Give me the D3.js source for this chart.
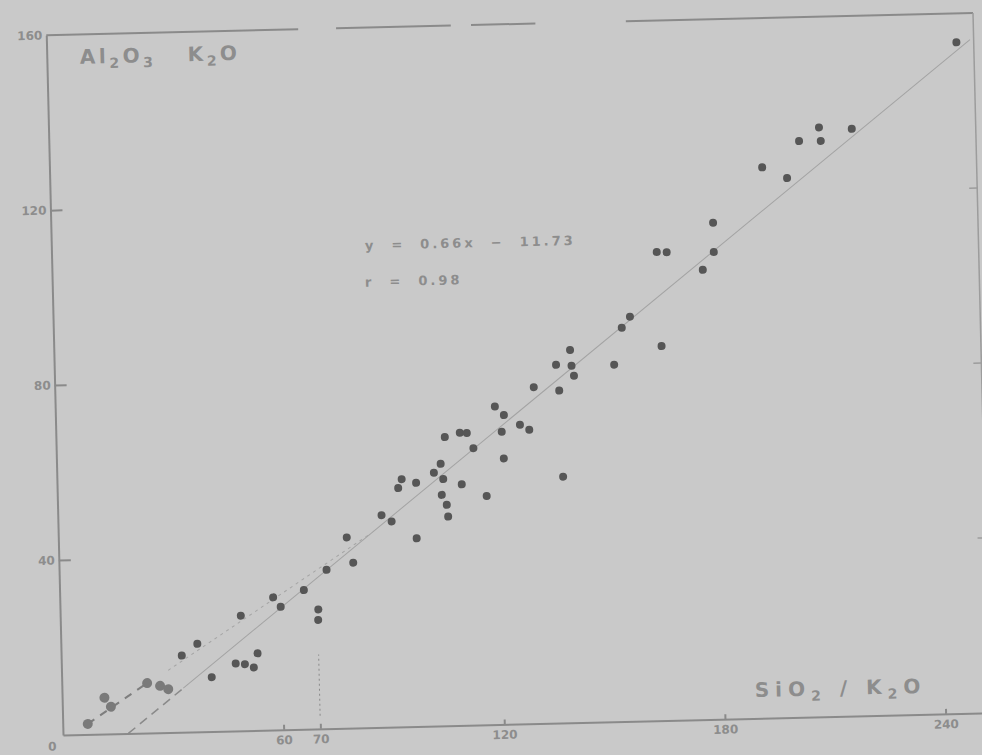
<!DOCTYPE html>
<html>
<head>
<meta charset="utf-8">
<script src="https://cdn.jsdelivr.net/npm/d3@7"></script>
<style>
  body { margin: 0; background: #c9c9c9; }
  svg { display: block; }
  text { font-family: "DejaVu Sans", sans-serif; font-weight: bold; fill: #8d8d8d; }
</style>
</head>
<body>
<svg width="982" height="755"></svg>
<script>
// x = SiO2/K2O, y = Al2O3/K2O
const ptsX = [32.8, 37.1, 40.8, 49.1, 47.4, 49.9, 52.3, 53.4, 58.0, 60.0, 66.4, 72.7, 70.2, 70.1,
  80.0, 78.4, 88.0, 90.7, 97.4, 93.7, 92.7, 97.6, 104.5, 105.8, 106.1, 104.4, 102.5, 105.0,
  110.0, 116.7, 105.7, 109.8, 111.7, 113.4, 121.6, 121.2, 119.5, 121.9, 126.2, 128.7, 130.2,
  137.1, 137.6, 140.3, 136.4, 140.6, 141.2, 152.2, 156.8, 154.5, 165.2, 164.5, 167.2, 180.0,
  180.0, 176.9, 193.7, 200.4, 203.9, 209.8, 209.4, 218.3, 247.3];
const ptsY = [17.5, 20.1, 12.4, 26.3, 15.4, 15.2, 14.4, 17.6, 30.3, 28.1, 31.8, 36.3, 27.3, 24.9,
  37.8, 43.6, 48.5, 47.0, 43.0, 56.6, 54.6, 55.7, 52.8, 50.5, 47.8, 59.9, 57.9, 56.4,
  55.1, 52.3, 66.0, 66.9, 66.8, 63.3, 60.8, 66.9, 72.7, 70.7, 68.4, 67.2, 76.9,
  76.0, 56.3, 85.2, 81.9, 81.6, 79.3, 81.6, 92.5, 90.0, 85.6, 107.1, 107.0, 113.5,
  106.8, 102.8, 125.9, 123.3, 131.7, 131.6, 134.7, 134.2, 153.4];

// low-ratio samples (larger, lighter dots, joined by the dashed line)
const lowX = [6.8, 11.5, 13.2, 23.2, 26.7, 28.9];
const lowY = [2.4, 8.3, 6.2, 11.4, 10.7, 9.9];

const slope = 0.66, intercept = -11.73;
const xTicks = [60, 70, 120, 180, 240];
const yTicks = [40, 80, 120, 160];

const svg = d3.select('svg');

// the scan is slightly tilted, so the whole plot is turned a little
const g = svg.append('g')
  .attr('transform', 'translate(63,735) rotate(-1.37)');

const x = d3.scaleLinear().domain([0, 252]).range([0, 927]);
const y = d3.scaleLinear().domain([0, 160]).range([0, -700]);

//axes
const xAxis = g.append('g')
  .call(d3.axisBottom(x).tickValues(xTicks).tickSize(-5).tickSizeOuter(0).tickPadding(6));
const yAxis = g.append('g')
  .call(d3.axisLeft(y).tickValues(yTicks).tickSize(-12).tickSizeOuter(0).tickPadding(4));

[xAxis, yAxis].forEach(a => {
  a.select('.domain').attr('stroke', '#8a8a8a').attr('stroke-width', 2);
  a.selectAll('.tick line').attr('stroke', '#8a8a8a').attr('stroke-width', 2);
  a.selectAll('.tick text').style('font-size', '12px').attr('fill', '#8a8a8a');
});
yAxis.selectAll('.tick').filter(d => d === 160).select('line').remove();

g.append('text')
  .attr('x', x(-3)).attr('y', y(-3.5))
  .attr('text-anchor', 'middle')
  .style('font-size', '12px')
  .text('0');

//frame: top (with the gaps of the scan) and right side
const topSegments = [[0, 68.5], [78.8, 110], [115.5, 133], [157.6, 252]];
g.selectAll('.top')
  .data(topSegments)
  .join('line')
  .attr('x1', d => x(d[0])).attr('x2', d => x(d[1]))
  .attr('y1', y(160)).attr('y2', y(160))
  .attr('stroke', '#8a8a8a').attr('stroke-width', 2);

g.append('line')
  .attr('x1', x(252)).attr('x2', x(252))
  .attr('y1', y(160)).attr('y2', y(0))
  .attr('stroke', '#9c9c9c').attr('stroke-width', 1.5);

g.selectAll('.rtick')
  .data(yTicks.slice(0, 3))
  .join('line')
  .attr('x1', x(252)).attr('x2', x(252) - 8)
  .attr('y1', d => y(d)).attr('y2', d => y(d))
  .attr('stroke', '#9c9c9c').attr('stroke-width', 1.5);

//regression line: dashed near the origin, thin further up
const x0 = -intercept / slope;
g.append('line')
  .attr('x1', x(x0)).attr('y1', y(0))
  .attr('x2', x(33)).attr('y2', y(slope * 33 + intercept))
  .attr('stroke', '#8a8a8a').attr('stroke-width', 1.5)
  .attr('stroke-dasharray', '9,6');
g.append('line')
  .attr('x1', x(33)).attr('y1', y(slope * 33 + intercept))
  .attr('x2', x(251)).attr('y2', y(slope * 251 + intercept))
  .attr('stroke', '#a3a3a3').attr('stroke-width', 1);

//line through the low points
g.append('path')
  .attr('d', d3.line()([[x(lowX[0]), y(lowY[0])], [x(lowX[3]), y(lowY[3])]]))
  .attr('stroke', '#7e7e7e').attr('stroke-width', 2)
  .attr('stroke-dasharray', '8,7').attr('fill', 'none');
g.append('line')
  .attr('x1', x(29)).attr('y1', y(14.2))
  .attr('x2', x(85)).attr('y2', y(44.4))
  .attr('stroke', '#a5a5a5').attr('stroke-width', 1)
  .attr('stroke-dasharray', '3,4');

//dotted marker at 70
g.append('line')
  .attr('x1', x(70)).attr('x2', x(70))
  .attr('y1', y(3)).attr('y2', y(17))
  .attr('stroke', '#8a8a8a').attr('stroke-width', 1)
  .attr('stroke-dasharray', '2,3');

//points
g.selectAll('.low')
  .data(lowX)
  .join('circle')
  .attr('cx', d => x(d))
  .attr('cy', (d, i) => y(lowY[i]))
  .attr('r', 5)
  .attr('fill', '#7a7a7a');

g.selectAll('.pt')
  .data(ptsX)
  .join('circle')
  .attr('cx', d => x(d))
  .attr('cy', (d, i) => y(ptsY[i]))
  .attr('r', 4)
  .attr('fill', '#565656');

//labels
function chem(sel, parts) {
  parts.forEach(p => {
    const t = sel.append('tspan').text(p[0]);
    if (p[1]) t.attr('baseline-shift', '-35%').style('font-size', '14px');
  });
}

const title = g.append('text')
  .attr('x', x(9)).attr('y', y(153.3))
  .style('font-size', '20px')
  .style('letter-spacing', '3.5px');
chem(title, [['Al'], ['2', 1], ['O'], ['3', 1], ['\u00a0\u00a0\u00a0K'], ['2', 1], ['O']]);

const xl = g.append('text')
  .attr('x', x(188.3)).attr('y', y(4.9))
  .style('font-size', '20px')
  .style('letter-spacing', '6px');
chem(xl, [['SiO'], ['2', 1], [' / K'], ['2', 1], ['O']]);

g.append('text')
  .attr('x', x(85.2)).attr('y', y(109.2))
  .style('font-size', '13px')
  .style('letter-spacing', '3px')
  .attr('xml:space', 'preserve')
  .text('y  =  0.66x  \u2212  11.73');

g.append('text')
  .attr('x', x(85)).attr('y', y(100.8))
  .style('font-size', '13px')
  .style('letter-spacing', '3px')
  .attr('xml:space', 'preserve')
  .text('r  =  0.98');
</script>
</body>
</html>
